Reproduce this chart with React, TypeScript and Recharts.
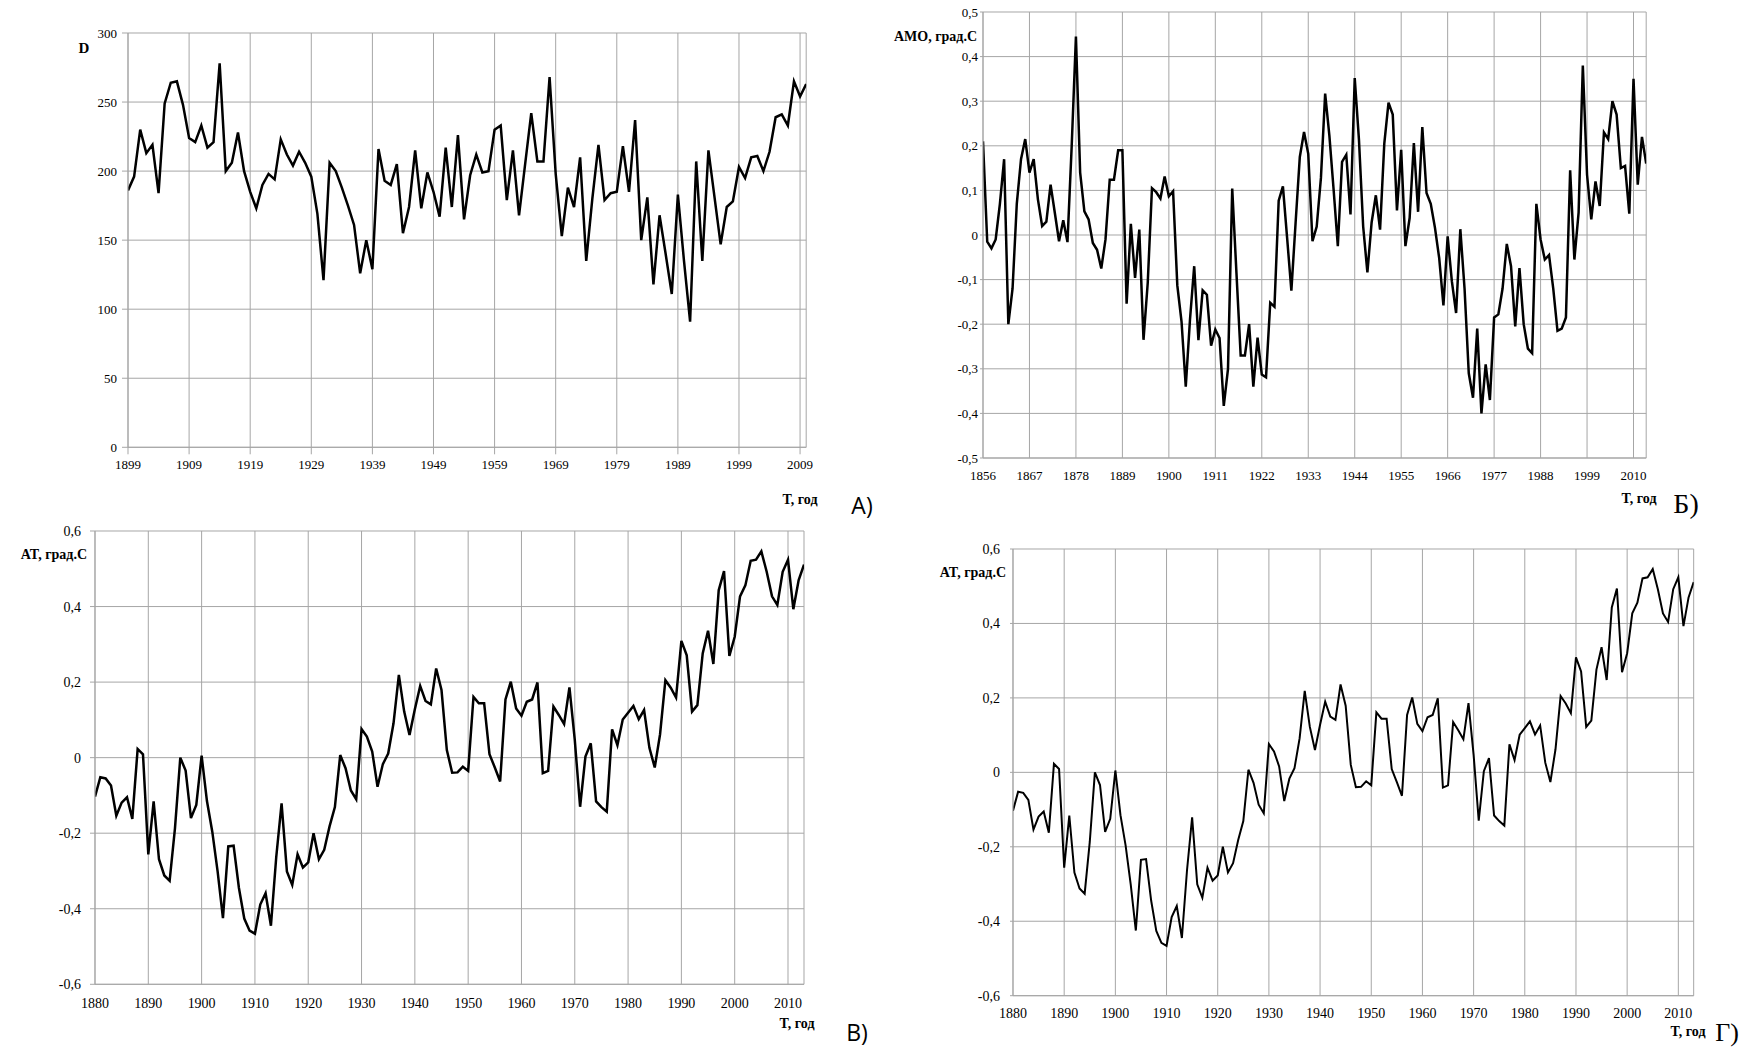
import { LineChart, Line, XAxis, YAxis, CartesianGrid } from "recharts";

// A) D index, 1899-2010
const dStart = 1899;
const dValues = [
  186, 196, 230, 213, 219, 184, 249, 264, 265, 248,
  224, 221, 233, 217, 221, 278, 200, 206, 228, 200,
  185, 173, 190, 198, 194, 223, 212, 204, 214, 206,
  196, 169, 121, 206, 200, 188, 175, 161, 126, 150,
  129, 216, 193, 190, 205, 155, 174, 215, 173, 199,
  185, 167, 217, 174, 226, 165, 197, 212, 199, 200,
  230, 233, 179, 215, 168, 205, 242, 207, 207, 268,
  198, 153, 188, 174, 210, 135, 180, 219, 179, 184,
  185, 218, 185, 237, 150, 181, 118, 168, 140, 111,
  183, 135, 91, 207, 135, 215, 181, 147, 174, 178,
  203, 195, 210, 211, 200, 214, 239, 241, 233, 265,
  254, 263,
];
const dXTicks = [1899, 1909, 1919, 1929, 1939, 1949, 1959, 1969, 1979, 1989, 1999, 2009];
const dYTicks = [0, 50, 100, 150, 200, 250, 300];

// Б) AMO, 1856-2013
const amoStart = 1856;
const amoValues = [
  0.21, -0.015, -0.03, -0.01, 0.07, 0.17, -0.2, -0.12, 0.07, 0.17,
  0.215, 0.14, 0.17, 0.08, 0.02, 0.03, 0.113, 0.05, -0.014, 0.033,
  -0.016, 0.2, 0.445, 0.14, 0.053, 0.035, -0.018, -0.033, -0.075, -0.01,
  0.124, 0.124, 0.19, 0.19, -0.154, 0.025, -0.096, 0.012, -0.235, -0.107,
  0.105, 0.096, 0.082, 0.131, 0.087, 0.098, -0.113, -0.194, -0.34, -0.19,
  -0.07, -0.236, -0.124, -0.134, -0.248, -0.212, -0.231, -0.383, -0.3, 0.104,
  -0.085, -0.27, -0.27, -0.2, -0.34, -0.23, -0.313, -0.319, -0.152, -0.161,
  0.077, 0.109, -0.007, -0.125, 0.027, 0.175, 0.231, 0.182, -0.014, 0.019,
  0.128, 0.317, 0.223, 0.102, -0.025, 0.164, 0.18, 0.046, 0.352, 0.214,
  0.019, -0.084, 0.028, 0.089, 0.012, 0.205, 0.297, 0.27, 0.055, 0.191,
  -0.025, 0.038, 0.206, 0.052, 0.242, 0.094, 0.07, 0.016, -0.052, -0.158,
  -0.003, -0.104, -0.175, 0.013, -0.12, -0.31, -0.365, -0.21, -0.4, -0.29,
  -0.37, -0.185, -0.178, -0.12, -0.02, -0.07, -0.205, -0.074, -0.2, -0.255,
  -0.265, 0.07, -0.01, -0.055, -0.045, -0.12, -0.215, -0.21, -0.185, 0.145,
  -0.055, 0.05, 0.38, 0.135, 0.035, 0.12, 0.065, 0.23, 0.215, 0.3,
  0.27, 0.15, 0.155, 0.048, 0.35, 0.113, 0.22, 0.16,
];
const amoXTicks = [1856, 1867, 1878, 1889, 1900, 1911, 1922, 1933, 1944, 1955, 1966, 1977, 1988, 1999, 2010];
const amoYTicks = [-0.5, -0.4, -0.3, -0.2, -0.1, 0, 0.1, 0.2, 0.3, 0.4, 0.5];

// В) and Г) AT, 1880-2013
const atStart = 1880;
const atValues = [
  -0.103, -0.052, -0.055, -0.074, -0.154, -0.119, -0.105, -0.162, 0.023, 0.009,
  -0.256, -0.116, -0.269, -0.312, -0.326, -0.187, 0.0, -0.034, -0.16, -0.125,
  0.005, -0.115, -0.196, -0.301, -0.425, -0.235, -0.233, -0.345, -0.426, -0.458,
  -0.466, -0.389, -0.359, -0.445, -0.263, -0.121, -0.301, -0.337, -0.256, -0.291,
  -0.277, -0.2, -0.269, -0.244, -0.182, -0.131, 0.007, -0.028, -0.087, -0.11,
  0.076, 0.056, 0.016, -0.077, -0.017, 0.011, 0.091, 0.219, 0.122, 0.06,
  0.128, 0.19, 0.15, 0.141, 0.236, 0.179, 0.02, -0.04, -0.039, -0.024,
  -0.035, 0.161, 0.144, 0.144, 0.009, -0.026, -0.063, 0.154, 0.201, 0.13,
  0.111, 0.148, 0.154, 0.199, -0.041, -0.035, 0.135, 0.113, 0.089, 0.186,
  0.047, -0.13, 0.003, 0.038, -0.116, -0.131, -0.143, 0.075, 0.033, 0.101,
  0.119, 0.137, 0.102, 0.126, 0.026, -0.026, 0.062, 0.205, 0.185, 0.159,
  0.309, 0.271, 0.122, 0.139, 0.276, 0.336, 0.248, 0.443, 0.494, 0.269,
  0.32, 0.427, 0.456, 0.521, 0.524, 0.546, 0.492, 0.427, 0.404, 0.492,
  0.524, 0.393, 0.47, 0.511,
];
const atXTicks = [1880, 1890, 1900, 1910, 1920, 1930, 1940, 1950, 1960, 1970, 1980, 1990, 2000, 2010];
const atYTicks = [-0.6, -0.4, -0.2, 0, 0.2, 0.4, 0.6];

const toRows = (start: number, values: number[]) =>
  values.map((v, i) => ({ year: start + i, v }));

const intFmt = (v: number) => String(v);
const decFmt = (v: number) => (v === 0 ? "0" : v.toFixed(1).replace(".", ","));

const GRID = "#a6a6a6";
const SERIF = "'Liberation Serif', 'Times New Roman', serif";
const YW = 60;
const TM = 10;
const RM = 10;
const XH = 40;

type PanelProps = {
  rows: { year: number; v: number }[];
  x: number;
  y: number;
  w: number;
  h: number;
  xDomain: [number, number];
  xTicks: number[];
  yDomain: [number, number];
  yTicks: number[];
  yFmt: (v: number) => string;
  font: number;
  stroke: number;
  xTick: [number, number];
  yTick: [number, number];
};

function Panel(p: PanelProps) {
  return (
    <div style={{ position: "absolute", left: p.x - YW, top: p.y - TM }}>
      <LineChart
        width={p.w + YW + RM}
        height={p.h + TM + XH}
        data={p.rows}
        margin={{ top: TM, right: RM, left: 0, bottom: 0 }}
      >
        <CartesianGrid stroke={GRID} strokeWidth={1} />
        <XAxis
          type="number"
          dataKey="year"
          domain={p.xDomain}
          ticks={p.xTicks}
          interval={0}
          allowDataOverflow
          height={XH}
          tickSize={p.xTick[0]}
          tickMargin={p.xTick[1]}
          axisLine={{ stroke: GRID }}
          tickLine={{ stroke: GRID }}
          tick={{ fill: "#000", fontSize: p.font, fontFamily: SERIF }}
        />
        <YAxis
          type="number"
          domain={p.yDomain}
          ticks={p.yTicks}
          interval={0}
          allowDataOverflow
          width={YW}
          tickFormatter={p.yFmt}
          tickSize={p.yTick[0]}
          tickMargin={p.yTick[1]}
          axisLine={{ stroke: GRID }}
          tickLine={{ stroke: GRID }}
          tick={{ fill: "#000", fontSize: p.font, fontFamily: SERIF }}
        />
        <Line
          type="linear"
          dataKey="v"
          stroke="#000"
          strokeWidth={p.stroke}
          dot={false}
          activeDot={false}
          isAnimationActive={false}
        />
      </LineChart>
    </div>
  );
}

type TextProps = {
  x: number;
  y: number;
  text: string;
  size: number;
  bold?: boolean;
  family?: string;
  align?: "center" | "right";
};

function Txt({ x, y, text, size, bold, family, align = "center" }: TextProps) {
  return (
    <div
      style={{
        position: "absolute",
        left: x,
        top: y,
        transform: align === "center" ? "translate(-50%, -50%)" : "translate(-100%, -50%)",
        fontFamily: family ?? SERIF,
        fontSize: size,
        fontWeight: bold ? "bold" : "normal",
        whiteSpace: "nowrap",
        lineHeight: 1,
        color: "#000",
      }}
    >
      {text}
    </div>
  );
}

const SANS = "'Open Sans', 'Liberation Sans', sans-serif";

export default function App() {
  const dRows = toRows(dStart, dValues);
  const amoRows = toRows(amoStart, amoValues);
  const atRows = toRows(atStart, atValues);
  return (
    <div
      style={{
        position: "absolute",
        left: 0,
        top: 0,
        width: 1746,
        height: 1054,
        background: "#fff",
        overflow: "hidden",
      }}
    >
      <Panel
        rows={dRows}
        x={127.5}
        y={32.7}
        w={678.2}
        h={414.3}
        xDomain={[1899, 2010]}
        xTicks={dXTicks}
        yDomain={[0, 300]}
        yTicks={dYTicks}
        yFmt={intFmt}
        font={13}
        stroke={2.5}
        xTick={[7, 5]}
        yTick={[6, 5]}
      />
      <Panel
        rows={amoRows}
        x={983.3}
        y={12.3}
        w={663.2}
        h={446}
        xDomain={[1856, 2013]}
        xTicks={amoXTicks}
        yDomain={[-0.5, 0.5]}
        yTicks={amoYTicks}
        yFmt={decFmt}
        font={13}
        stroke={2.5}
        xTick={[0, 13]}
        yTick={[3, 2]}
      />
      <Panel
        rows={atRows}
        x={95}
        y={530.7}
        w={709}
        h={453.3}
        xDomain={[1880, 2013]}
        xTicks={atXTicks}
        yDomain={[-0.6, 0.6]}
        yTicks={atYTicks}
        yFmt={decFmt}
        font={14}
        stroke={2.5}
        xTick={[0, 14]}
        yTick={[5, 9]}
      />
      <Panel
        rows={atRows}
        x={1013.3}
        y={549.3}
        w={680.7}
        h={446.7}
        xDomain={[1880, 2013]}
        xTicks={atXTicks}
        yDomain={[-0.6, 0.6]}
        yTicks={atYTicks}
        yFmt={decFmt}
        font={14}
        stroke={2}
        xTick={[0, 12]}
        yTick={[3, 10]}
      />

      <Txt x={84} y={48} text="D" size={15} bold />
      <Txt x={800} y={500} text="T, год" size={14} bold />
      <Txt x={862} y={505} text="A)" size={23} family={SANS} />

      <Txt x={977} y={37} text="АМО, град.С" size={14} bold align="right" />
      <Txt x={1639} y={499} text="T, год" size={14} bold />
      <Txt x={1686} y={504} text="Б)" size={28} />

      <Txt x={87} y={555} text="AT, град.С" size={14} bold align="right" />
      <Txt x={797} y={1024} text="T, год" size={14} bold />
      <Txt x={857} y={1032} text="В)" size={23} family={SANS} />

      <Txt x={1006} y={573} text="AT, град.С" size={14} bold align="right" />
      <Txt x={1688} y={1032} text="T, год" size={14} bold />
      <Txt x={1727} y={1033} text="Г)" size={26} />
    </div>
  );
}
